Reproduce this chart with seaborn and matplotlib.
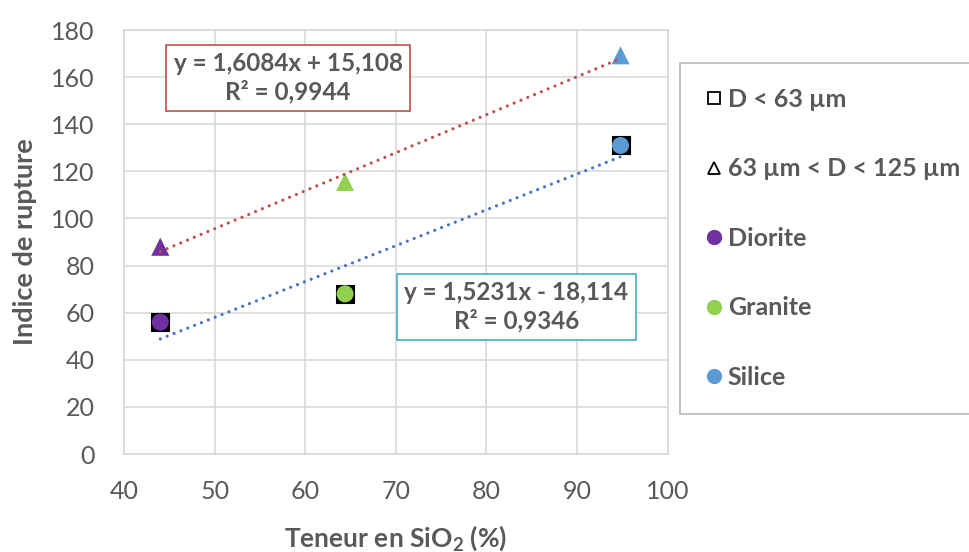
import pandas as pd
import numpy as np
import matplotlib.pyplot as plt
import seaborn as sns
from matplotlib.lines import Line2D

# Données
roches = ["Diorite", "Granite", "Silice"]
sio2 = [44.0, 64.4, 94.8]
indice_fin = [56.0, 68.0, 131.0]      # D < 63 µm
indice_gros = [88.0, 115.5, 169.3]    # 63 µm < D < 125 µm
couleurs = {"Diorite": "#7030A0", "Granite": "#92D050", "Silice": "#5B9BD5"}

eq_gros = "y = 1,6084x + 15,108\nR² = 0,9944"
eq_fin = "y = 1,5231x - 18,114\nR² = 0,9346"

df = pd.DataFrame({
    "roche": roches * 2,
    "sio2": sio2 * 2,
    "indice": indice_fin + indice_gros,
    "classe": ["fin"] * 3 + ["gros"] * 3,
})

sns.set_theme(style="whitegrid")
plt.rcParams['font.family'] = ['Lato', 'DejaVu Sans']
plt.rcParams['mathtext.fontset'] = 'custom'
plt.rcParams['mathtext.rm'] = 'Lato'
plt.rcParams['mathtext.bf'] = 'Lato:bold'
gris = "#595959"

fig = plt.figure(figsize=(9.69, 5.52), dpi=100)
ax = fig.add_axes([0.128, 0.1775, 0.561, 0.768])

# courbes de tendance (pointillés ronds)
pointille = dict(linestyle=(0, (0.01, 2.3)), linewidth=2.3, dash_capstyle="round", zorder=4)
sns.regplot(data=df[df.classe == "gros"], x="sio2", y="indice", ax=ax, scatter=False,
            ci=None, color="#C0504D", line_kws=pointille)
sns.regplot(data=df[df.classe == "fin"], x="sio2", y="indice", ax=ax, scatter=False,
            ci=None, color="#4472C4", line_kws=pointille)

# points
fin = df[df.classe == "fin"]
gros = df[df.classe == "gros"]
sns.scatterplot(data=fin, x="sio2", y="indice", ax=ax, marker="s", s=150,
                color="black", edgecolor="black", linewidth=0.8, legend=False, zorder=3)
sns.scatterplot(data=fin, x="sio2", y="indice", hue="roche", palette=couleurs, ax=ax,
                marker="o", s=150, linewidth=0, legend=False, zorder=3)
sns.scatterplot(data=gros, x="sio2", y="indice", hue="roche", palette=couleurs, ax=ax,
                marker="^", s=170, linewidth=0, legend=False, zorder=3)

ax.set_xlim(40, 100)
ax.set_ylim(0, 180)
ax.set_xticks(np.arange(40, 101, 10))
ax.set_yticks(np.arange(0, 181, 20))
ax.tick_params(labelsize=18, colors=gris, length=0)
ax.tick_params(axis="x", pad=19)
ax.tick_params(axis="y", pad=21)
ax.grid(color="#d9d9d9", linewidth=1.2)
for sp in ax.spines.values():
    sp.set_color("#d9d9d9")
    sp.set_linewidth(1.2)

ax.set_xlabel(r"Teneur en SiO$_\mathbf{2}$ (%)", fontsize=19, fontweight="bold", color=gris, labelpad=14)
ax.set_ylabel("Indice de rupture", fontsize=19.5, fontweight="bold", color=gris, labelpad=10)

ax.text(58.1, 159.6, eq_gros, ha="center", va="center", fontsize=17.5, fontweight="bold",
        color="#595959", linespacing=1.25,
        bbox=dict(boxstyle="square,pad=0.3", facecolor="white", edgecolor="#C0504D", linewidth=1.2))
ax.text(83.3, 62.4, eq_fin, ha="center", va="center", fontsize=17.5, fontweight="bold",
        color="#595959", linespacing=1.25,
        bbox=dict(boxstyle="square,pad=0.3", facecolor="white", edgecolor="#4BACC6", linewidth=1.2))

handles = [
    Line2D([], [], marker="s", linestyle="", markerfacecolor="none", markeredgecolor="black",
           markeredgewidth=1.3, markersize=8),
    Line2D([], [], marker="^", linestyle="", markerfacecolor="none", markeredgecolor="black",
           markeredgewidth=1.3, markersize=8),
    Line2D([], [], marker="o", linestyle="", color=couleurs["Diorite"], markersize=10),
    Line2D([], [], marker="o", linestyle="", color=couleurs["Granite"], markersize=10),
    Line2D([], [], marker="o", linestyle="", color=couleurs["Silice"], markersize=10),
]
labels = ["D < 63 µm", "63 µm < D < 125 µm", "Diorite", "Granite", "Silice"]
leg = fig.legend(handles, labels, loc="upper left", bbox_to_anchor=(0.702, 0.886),
                 frameon=True, fancybox=False, prop=dict(size=18, weight="bold"),
                 labelspacing=1.86, handletextpad=0.2, handlelength=0.7,
                 borderpad=1.0, borderaxespad=0)
leg.get_frame().set_edgecolor("#a6a6a6")
leg.get_frame().set_linewidth(1.2)
for t in leg.get_texts():
    t.set_color(gris)

fig.savefig("out.png", dpi=100)
